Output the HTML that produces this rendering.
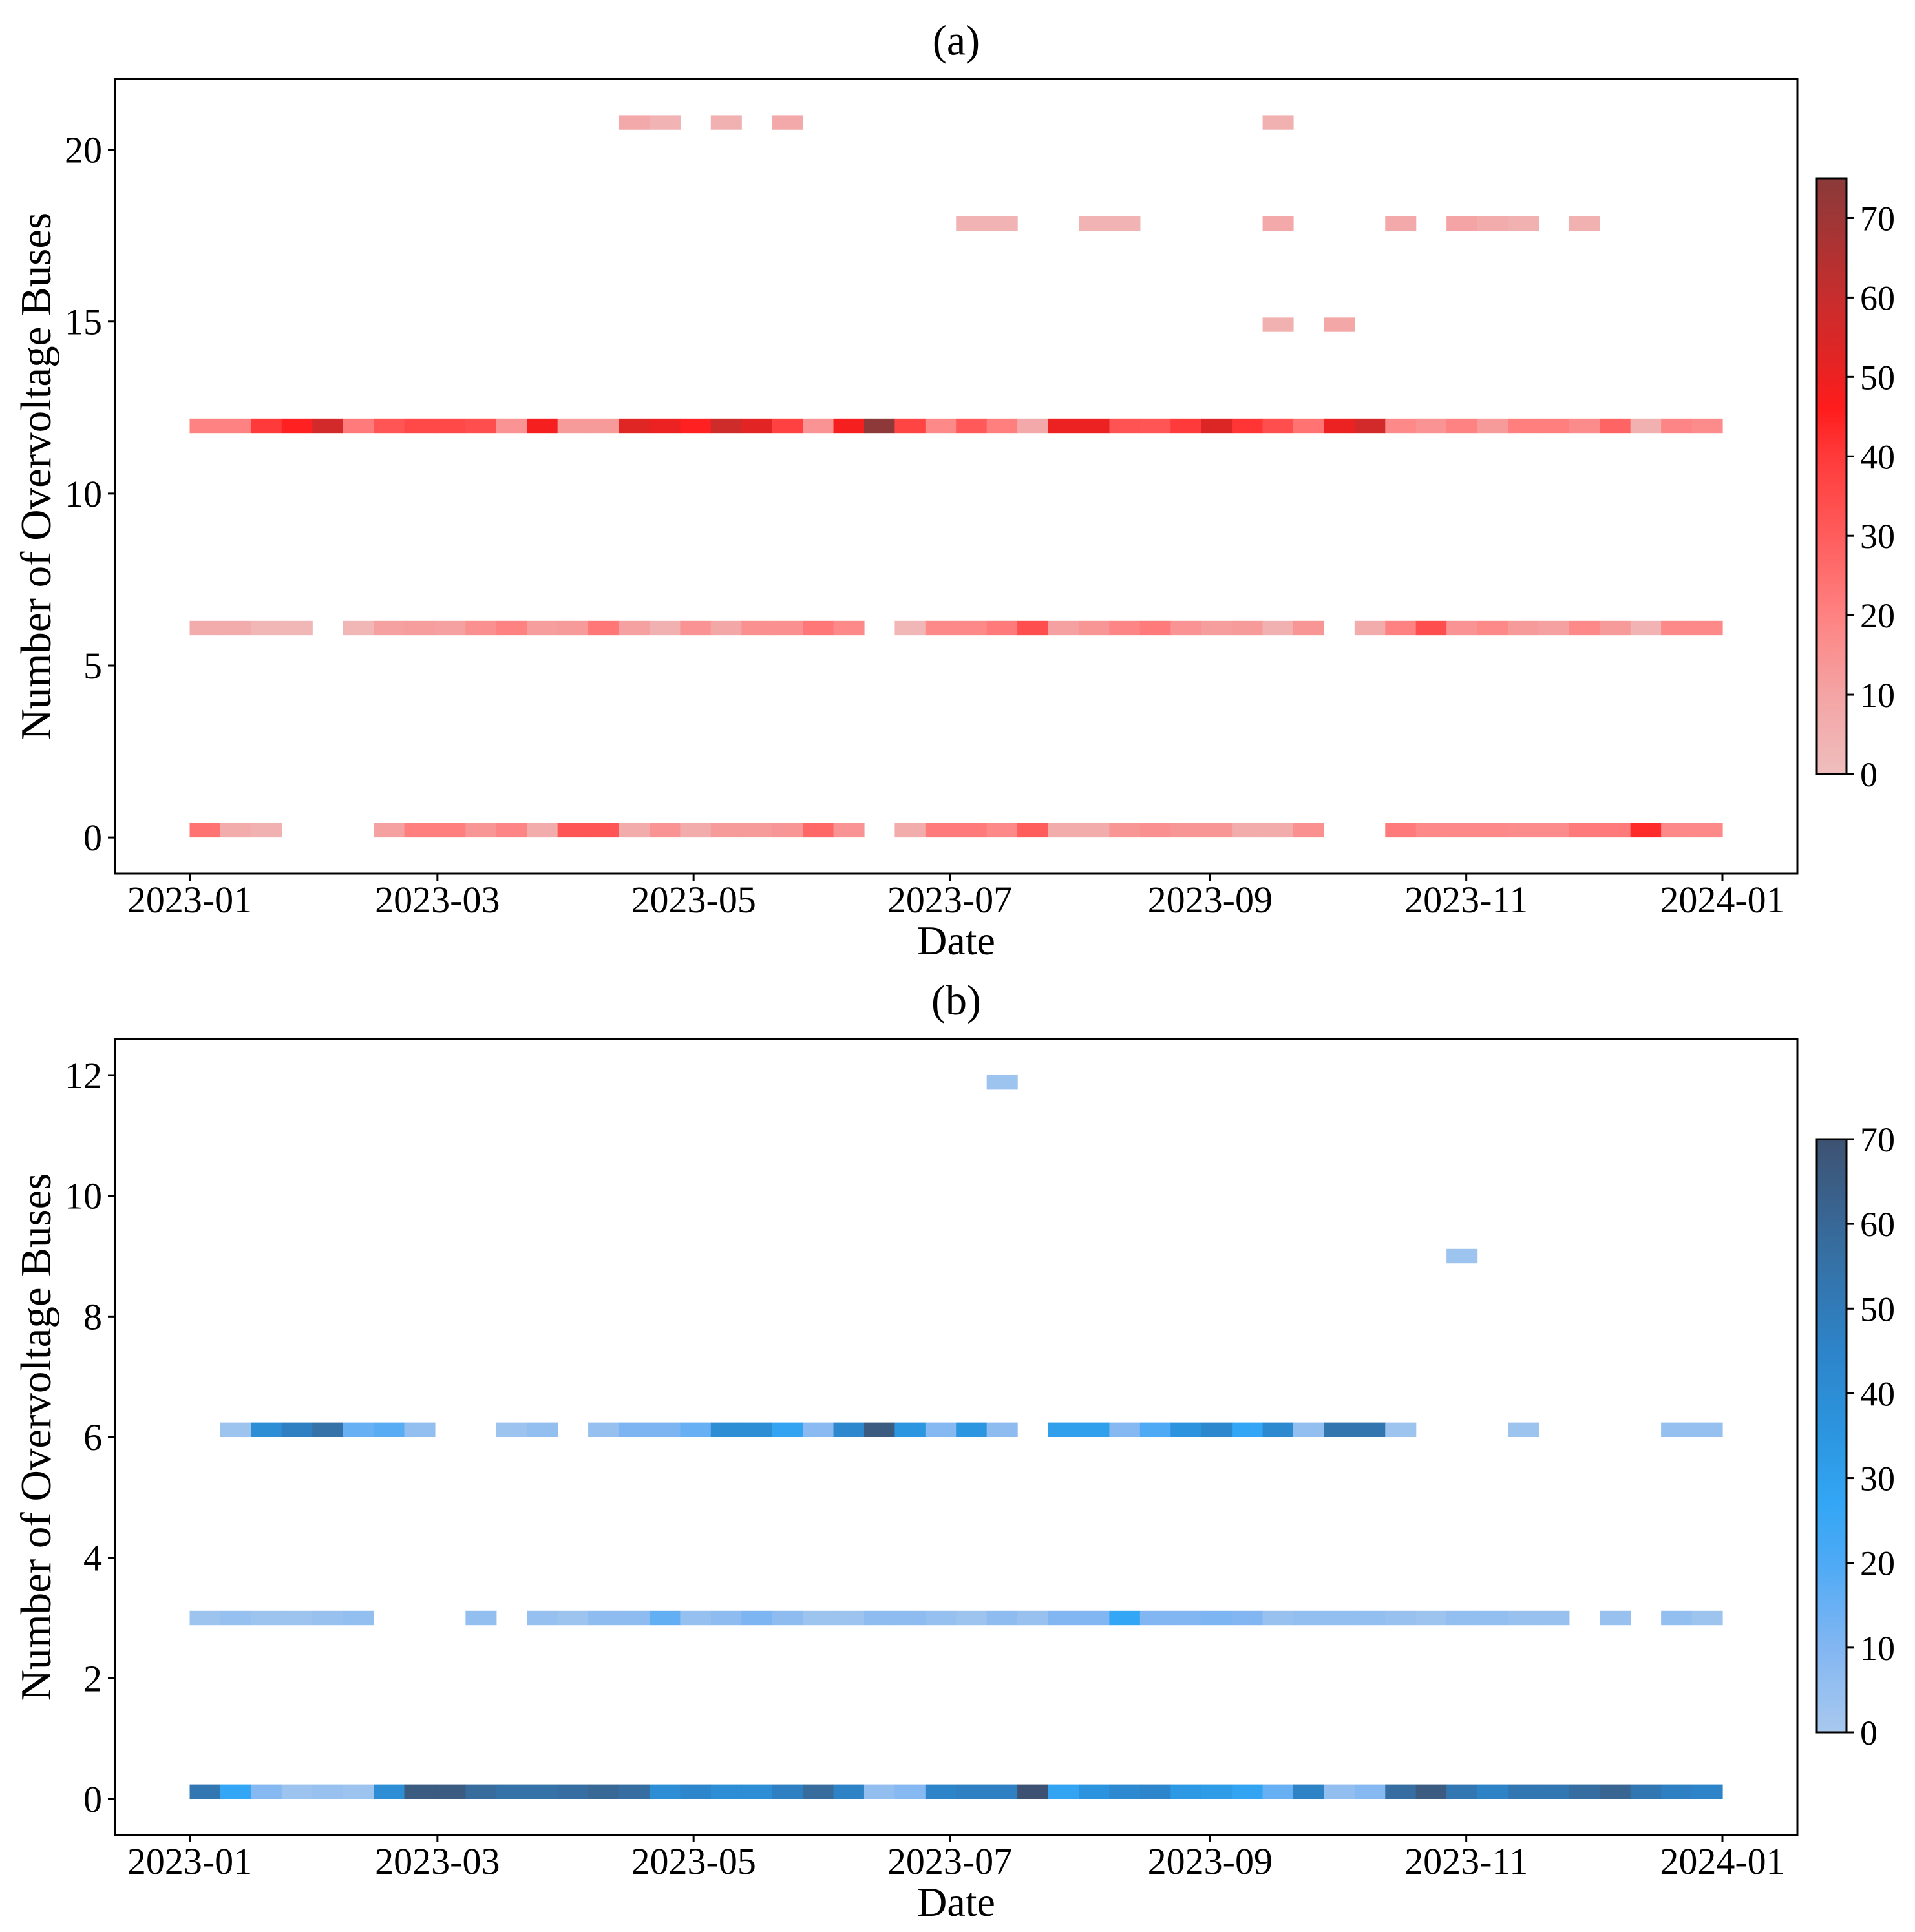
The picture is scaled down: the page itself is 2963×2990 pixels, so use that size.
<!DOCTYPE html>
<html><head><meta charset="utf-8">
<style>
html,body{margin:0;padding:0;background:#fff;}
svg{display:block;font-family:"Liberation Serif","DejaVu Serif",serif;}
</style></head>
<body>
<svg id="fig" width="2963" height="2990" viewBox="0 0 2963 2990" xmlns="http://www.w3.org/2000/svg"></svg>
<script>
// ---------- data ----------
const monthTickDays = [0, 59, 120, 181, 243, 304, 365];
const monthTickLabels = ["2023-01","2023-03","2023-05","2023-07","2023-09","2023-11","2024-01"];
const numBins = 50;

// Panel (a): weekly counts per overvoltage-bus level
const aLevels = [0, 6, 12, 15, 18, 21];
const aRow0  = [24,7,5,0,0,0,11,21,21,14, 19,7,32,32,7,15,7,13,13,14, 27,15,0,7,22,22,18,30,7,7, 14,16,14,14,7,7,16,0,0,22, 18,18,18,17,17,22,22,43,18,18];
const aRow6  = [7,7,3,3,0,3,11,12,11,16, 20,12,13,23,11,5,15,9,16,16, 23,18,0,3,18,18,22,34,11,14, 19,22,15,12,13,5,14,0,7,20, 34,15,18,13,11,18,13,4,18,18];
const aRow12 = [20,20,40,45,57,22,32,36,36,34, 15,48,13,13,53,50,45,58,52,38, 15,48,74,37,18,31,21,8,50,50, 33,32,40,54,41,34,24,50,57,18, 15,20,13,21,21,17,28,5,19,17];
const aRow15 = [0,0,0,0,0,0,0,0,0,0, 0,0,0,0,0,0,0,0,0,0, 0,0,0,0,0,0,0,0,0,0, 0,0,0,0,0,5,0,9,0,0, 0,0,0,0,0,0,0,0,0,0];
const aRow18 = [0,0,0,0,0,0,0,0,0,0, 0,0,0,0,0,0,0,0,0,0, 0,0,0,0,0,4,4,0,0,4, 4,0,0,0,0,8,0,0,0,8, 0,10,7,5,0,5,0,0,0,0];
const aRow21 = [0,0,0,0,0,0,0,0,0,0, 0,0,0,0,8,4,0,5,0,8, 0,0,0,0,0,0,0,0,0,0, 0,0,0,0,0,5,0,0,0,0, 0,0,0,0,0,0,0,0,0,0];
const aYTicks = [0, 5, 10, 15, 20];
const aCbarTicks = [0, 10, 20, 30, 40, 50, 60, 70];

// Panel (b)
const bLevels = [0, 3, 6, 9, 12];
const bRow0  = [52,27,9,3,4,3,40,66,66,58, 55,55,57,60,57,40,44,40,40,47, 58,46,6,9,45,47,47,70,28,36, 42,44,34,32,28,15,46,6,9,57, 66,52,46,52,52,57,61,52,47,45];
const bRow3  = [3,5,3,3,4,6,0,0,0,6, 0,5,3,7,7,16,5,7,11,7, 3,3,7,7,5,3,7,4,10,10, 27,10,10,11,10,4,6,6,6,4, 3,6,6,4,4,0,4,0,6,3];
const bRow6  = [0,3,40,47,55,15,18,6,0,0, 3,6,0,5,11,11,15,40,40,28, 8,43,66,35,9,35,7,0,30,30, 9,20,36,43,27,42,6,53,53,3, 0,0,0,3,0,0,0,0,5,5];
const bRow9  = [0,0,0,0,0,0,0,0,0,0, 0,0,0,0,0,0,0,0,0,0, 0,0,0,0,0,0,0,0,0,0, 0,0,0,0,0,0,0,0,0,0, 0,3,0,0,0,0,0,0,0,0];
const bRow12 = [0,0,0,0,0,0,0,0,0,0, 0,0,0,0,0,0,0,0,0,0, 0,0,0,0,0,0,3,0,0,0, 0,0,0,0,0,0,0,0,0,0, 0,0,0,0,0,0,0,0,0,0];
const bYTicks = [0, 2, 4, 6, 8, 10, 12];
const bCbarTicks = [0, 10, 20, 30, 40, 50, 60, 70];

// ---------- styles ----------
const redStops = [[0,'#efbdbd'],[10,'#f4a4a4'],[20,'#ff8282'],[30,'#ff5c5c'],[40,'#ff3a3a'],[46,'#ff1c1c'],[52,'#e32424'],[60,'#c72d2d'],[75,'#8a3a3a']];
const blueStops = [[0,'#a9c9ee'],[10,'#82b6f2'],[20,'#4eaaf5'],[27,'#33a6f5'],[35,'#2c96e0'],[45,'#2d84c9'],[55,'#3572a8'],[65,'#3b5d84'],[70,'#3d5272']];

const NS = "http://www.w3.org/2000/svg";
const svg = document.getElementById('fig');
function mk(tag, attrs, parent){
  const e = document.createElementNS(NS, tag);
  for (const k in attrs) e.setAttribute(k, attrs[k]);
  (parent||svg).appendChild(e);
  return e;
}
function hex(c){return [parseInt(c.slice(1,3),16),parseInt(c.slice(3,5),16),parseInt(c.slice(5,7),16)];}
function cmap(stops, v){
  if (v <= stops[0][0]) return stops[0][1];
  for (let i=1;i<stops.length;i++){
    if (v <= stops[i][0]){
      const t=(v-stops[i-1][0])/(stops[i][0]-stops[i-1][0]);
      const a=hex(stops[i-1][1]), b=hex(stops[i][1]);
      return 'rgb('+a.map((x,j)=>Math.round(x+(b[j]-x)*t)).join(',')+')';
    }
  }
  return stops[stops.length-1][1];
}

const X0 = 178, X1 = 2781;
const dayToX = d => 293.5 + d * (2665 - 293.5) / 365;

function panel(cfg){
  const g = mk('g', {});
  
  
  const yMin = cfg.yLo, yMax = cfg.yHi;
  const yScale = v => cfg.bottom - (v - yMin) * (cfg.bottom - cfg.top) / (yMax - yMin);
  const dataMin = Math.min(...cfg.levels), dataMax = Math.max(...cfg.levels);
  const bw = (dataMax - dataMin) / numBins;
  cfg.rows.forEach((row, ri) => {
    const lv = cfg.levels[ri];
    const bi = Math.min(Math.floor((lv - dataMin) / bw + 1e-9), numBins - 1);
    const y0 = dataMin + bi * bw, y1 = y0 + bw;
    row.forEach((c, i) => {
      if (!c) return;
      const xa = dayToX(i * 365 / numBins), xb = dayToX((i + 1) * 365 / numBins);
      const r = mk('rect', {x: xa.toFixed(2), y: yScale(y1).toFixed(2), width: (xb - xa + 0.6).toFixed(2), height: (yScale(y0) - yScale(y1)).toFixed(2), fill: cmap(cfg.stops, c)}, g);
      
      
    });
  });
  const fr = mk('rect', {x: X0, y: cfg.top, width: X1 - X0, height: cfg.bottom - cfg.top, fill: 'none', stroke: '#000', 'stroke-width': 3}, g);
  
  
  cfg.yTicks.forEach(t => {
    const y = yScale(t);
    mk('line', {x1: X0 - 11, x2: X0, y1: y, y2: y, stroke: '#000', 'stroke-width': 3}, g);
    const tx = mk('text', {x: X0 - 20, y: y + 20, 'text-anchor': 'end', 'font-size': 58}, g);
    tx.textContent = t;
    
    
  });
  monthTickDays.forEach((d, i) => {
    const x = dayToX(d);
    mk('line', {x1: x, x2: x, y1: cfg.bottom, y2: cfg.bottom + 11, stroke: '#000', 'stroke-width': 3}, g);
    const tx = mk('text', {x: x, y: cfg.bottom + 60, 'text-anchor': 'middle', 'font-size': 58}, g);
    tx.textContent = monthTickLabels[i];
    
    
  });
  const xl = mk('text', {x: (X0 + X1) / 2, y: cfg.bottom + 125, 'text-anchor': 'middle', 'font-size': 64}, g);
  xl.textContent = 'Date';
  
  
  const cy = (cfg.top + cfg.bottom) / 2;
  const yl = mk('text', {x: 0, y: 0, 'text-anchor': 'middle', 'font-size': 67, transform: 'translate(78,' + cy + ') rotate(-90)'}, g);
  yl.textContent = 'Number of Overvoltage Buses';
  
  
  const tl = mk('text', {x: (X0 + X1) / 2, y: cfg.top - 38, 'text-anchor': 'middle', 'font-size': 66}, g);
  tl.textContent = cfg.title;
  
  
  const gid = cfg.name + '-grad';
  const defs = mk('defs', {}, g);
  const lg = mk('linearGradient', {id: gid, x1: 0, y1: 1, x2: 0, y2: 0}, defs);
  for (let v = 0; v <= cfg.vmax; v += 1) {
    mk('stop', {offset: (v / cfg.vmax).toFixed(4), 'stop-color': cmap(cfg.stops, v)}, lg);
  }
  const cb = mk('rect', {x: 2811, y: cfg.cbTop, width: 46, height: cfg.cbBot - cfg.cbTop, fill: 'url(#' + gid + ')', stroke: '#000', 'stroke-width': 3}, g);
  
  
  const cbS = v => cfg.cbBot - v * (cfg.cbBot - cfg.cbTop) / cfg.vmax;
  cfg.cbTicks.forEach(t => {
    const y = cbS(t);
    mk('line', {x1: 2857, x2: 2868, y1: y, y2: y, stroke: '#000', 'stroke-width': 3}, g);
    const tx = mk('text', {x: 2878, y: y + 19, 'font-size': 54}, g);
    tx.textContent = t;
    
    
  });
}

panel({name: 'panel-a', title: '(a)', top: 122.5, bottom: 1352, yLo: -1.05, yHi: 22.05,
  levels: aLevels, rows: [aRow0, aRow6, aRow12, aRow15, aRow18, aRow21], yTicks: aYTicks,
  stops: redStops, vmax: 75, cbTop: 276, cbBot: 1198, cbTicks: aCbarTicks});
panel({name: 'panel-b', title: '(b)', top: 1608, bottom: 2840, yLo: -0.6, yHi: 12.6,
  levels: bLevels, rows: [bRow0, bRow3, bRow6, bRow9, bRow12], yTicks: bYTicks,
  stops: blueStops, vmax: 70, cbTop: 1763, cbBot: 2681, cbTicks: bCbarTicks});
</script>
</body></html>
